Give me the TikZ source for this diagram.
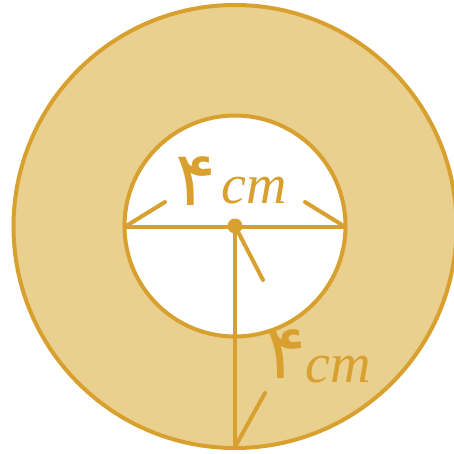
\documentclass[tikz,border=0pt]{standalone}
\usepackage{fontspec}
\setmainfont{Liberation Serif}
\newfontfamily\pfont[Script=Arabic]{DejaVu Sans}
\definecolor{ringfill}{HTML}{EAD08F}
\definecolor{gold}{HTML}{D8A02E}
\begin{document}
\begin{tikzpicture}[x=1pt,y=-1pt,
  edge/.style={draw=gold,line width=4pt},
  tick/.style={draw=gold,line width=4pt,line cap=round},
  lbl/.style={text=gold,inner sep=0pt,anchor=base west},
  digit/.style={lbl,font=\pfont\fontsize{76}{80}\selectfont},
  unit/.style={lbl,font=\itshape\fontsize{56}{60}\selectfont}]
\useasboundingbox (0,0) rectangle (454,453);
\coordinate (O) at (235,226.5);
\coordinate (C) at (235,226);
% outer ring
\fill[ringfill] (O) circle[radius=221.5];
\draw[edge] (O) circle[radius=221.5];
% inner hole
\fill[white] (C) circle[radius=110.5];
\draw[edge] (C) circle[radius=110.5];
% diameter and radius
\coordinate (L) at (124.5,227);
\coordinate (R) at (345.5,227);
\coordinate (Bot) at (235,447);
\draw[edge] (L) -- (R);
\draw[edge] (C) -- (Bot);
\fill[gold] (C) circle[radius=7.5];
% dimension ticks
\coordinate (lt) at (165,202);
\coordinate (rt) at (305,202);
\coordinate (ct) at (263,280);
\coordinate (bt) at (265,393);
\draw[tick] (L) -- (lt);
\draw[tick] (R) -- (rt);
\draw[tick] (C) -- (ct);
\draw[tick] (Bot) -- (bt);
% labels
\node[digit] (d1) at (183,205) {\kern-0.1em ۴\kern-0.14em};
\node[unit] (u1) at (221,203) {cm};
\node[digit] (d2) at (273,378) {\kern-0.1em ۴\kern-0.14em};
\node[unit] (u2) at (305,382) {cm};
\end{tikzpicture}
\end{document}
